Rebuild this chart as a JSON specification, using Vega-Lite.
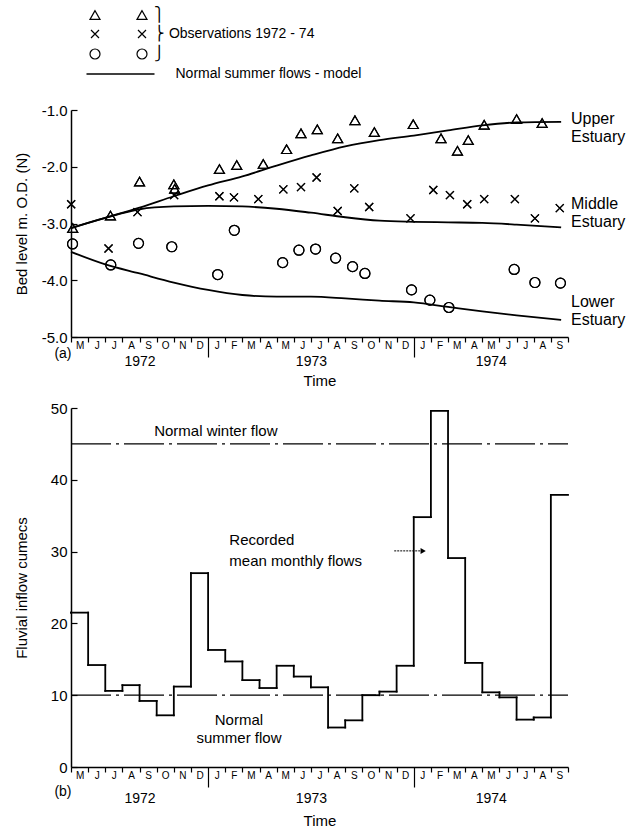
{
  "$schema": "https://vega.github.io/schema/vega-lite/v6.json",
  "background": "white",
  "padding": {"left": 14, "right": 5, "top": 8, "bottom": 5},
  "spacing": 13,
  "config": {
    "font": "Liberation Sans",
    "view": {"stroke": null},
    "axis": {"domainColor": "black", "tickColor": "black", "labelColor": "black", "titleColor": "black", "labelFont": "Liberation Sans", "titleFont": "Liberation Sans", "titleFontWeight": "normal", "domainWidth": 1.5, "tickWidth": 1.2, "grid": false},
    "legend": {"labelColor": "black", "labelFont": "Liberation Sans"},
    "text": {"color": "black", "font": "Liberation Sans"}
  },
  "datasets": {
    "model": [
      {"estuary": "Upper Estuary", "m": 0, "v": -3.08}, {"estuary": "Upper Estuary", "m": 2, "v": -2.9}, {"estuary": "Upper Estuary", "m": 4, "v": -2.72}, {"estuary": "Upper Estuary", "m": 6, "v": -2.52}, {"estuary": "Upper Estuary", "m": 8, "v": -2.33}, {"estuary": "Upper Estuary", "m": 10, "v": -2.17}, {"estuary": "Upper Estuary", "m": 12, "v": -1.98}, {"estuary": "Upper Estuary", "m": 14, "v": -1.8}, {"estuary": "Upper Estuary", "m": 16, "v": -1.64}, {"estuary": "Upper Estuary", "m": 18, "v": -1.53}, {"estuary": "Upper Estuary", "m": 20, "v": -1.45}, {"estuary": "Upper Estuary", "m": 22, "v": -1.36}, {"estuary": "Upper Estuary", "m": 24, "v": -1.27}, {"estuary": "Upper Estuary", "m": 26, "v": -1.22}, {"estuary": "Upper Estuary", "m": 28.6, "v": -1.21},
      {"estuary": "Middle Estuary", "m": 0, "v": -3.08}, {"estuary": "Middle Estuary", "m": 2, "v": -2.9}, {"estuary": "Middle Estuary", "m": 4, "v": -2.75}, {"estuary": "Middle Estuary", "m": 6, "v": -2.7}, {"estuary": "Middle Estuary", "m": 8, "v": -2.69}, {"estuary": "Middle Estuary", "m": 10, "v": -2.7}, {"estuary": "Middle Estuary", "m": 12, "v": -2.74}, {"estuary": "Middle Estuary", "m": 14, "v": -2.81}, {"estuary": "Middle Estuary", "m": 16, "v": -2.89}, {"estuary": "Middle Estuary", "m": 18, "v": -2.95}, {"estuary": "Middle Estuary", "m": 20, "v": -2.97}, {"estuary": "Middle Estuary", "m": 22, "v": -2.98}, {"estuary": "Middle Estuary", "m": 24, "v": -2.99}, {"estuary": "Middle Estuary", "m": 26, "v": -3.02}, {"estuary": "Middle Estuary", "m": 28.6, "v": -3.07},
      {"estuary": "Lower Estuary", "m": 0, "v": -3.5}, {"estuary": "Lower Estuary", "m": 2, "v": -3.72}, {"estuary": "Lower Estuary", "m": 4, "v": -3.88}, {"estuary": "Lower Estuary", "m": 6, "v": -4.04}, {"estuary": "Lower Estuary", "m": 8, "v": -4.17}, {"estuary": "Lower Estuary", "m": 10, "v": -4.26}, {"estuary": "Lower Estuary", "m": 12, "v": -4.29}, {"estuary": "Lower Estuary", "m": 14, "v": -4.29}, {"estuary": "Lower Estuary", "m": 16, "v": -4.32}, {"estuary": "Lower Estuary", "m": 18, "v": -4.36}, {"estuary": "Lower Estuary", "m": 20, "v": -4.39}, {"estuary": "Lower Estuary", "m": 22, "v": -4.47}, {"estuary": "Lower Estuary", "m": 24, "v": -4.55}, {"estuary": "Lower Estuary", "m": 26, "v": -4.62}, {"estuary": "Lower Estuary", "m": 28.6, "v": -4.7}
    ],
    "obs": [
      {"estuary": "Upper Estuary", "m": 0.1, "v": -3.08}, {"estuary": "Upper Estuary", "m": 2.3, "v": -2.86}, {"estuary": "Upper Estuary", "m": 4.0, "v": -2.26}, {"estuary": "Upper Estuary", "m": 6.0, "v": -2.31}, {"estuary": "Upper Estuary", "m": 6.05, "v": -2.39}, {"estuary": "Upper Estuary", "m": 8.66, "v": -2.04}, {"estuary": "Upper Estuary", "m": 9.67, "v": -1.97}, {"estuary": "Upper Estuary", "m": 11.22, "v": -1.95}, {"estuary": "Upper Estuary", "m": 12.58, "v": -1.69}, {"estuary": "Upper Estuary", "m": 13.42, "v": -1.41}, {"estuary": "Upper Estuary", "m": 14.37, "v": -1.34}, {"estuary": "Upper Estuary", "m": 15.56, "v": -1.5}, {"estuary": "Upper Estuary", "m": 16.57, "v": -1.18}, {"estuary": "Upper Estuary", "m": 17.7, "v": -1.39}, {"estuary": "Upper Estuary", "m": 19.97, "v": -1.25}, {"estuary": "Upper Estuary", "m": 21.59, "v": -1.5}, {"estuary": "Upper Estuary", "m": 22.55, "v": -1.72}, {"estuary": "Upper Estuary", "m": 23.18, "v": -1.53}, {"estuary": "Upper Estuary", "m": 24.11, "v": -1.26}, {"estuary": "Upper Estuary", "m": 26.0, "v": -1.16}, {"estuary": "Upper Estuary", "m": 27.49, "v": -1.23},
      {"estuary": "Middle Estuary", "m": 0.01, "v": -2.66}, {"estuary": "Middle Estuary", "m": 2.19, "v": -3.44}, {"estuary": "Middle Estuary", "m": 3.88, "v": -2.8}, {"estuary": "Middle Estuary", "m": 6.02, "v": -2.5}, {"estuary": "Middle Estuary", "m": 8.66, "v": -2.52}, {"estuary": "Middle Estuary", "m": 9.51, "v": -2.54}, {"estuary": "Middle Estuary", "m": 10.93, "v": -2.57}, {"estuary": "Middle Estuary", "m": 12.39, "v": -2.4}, {"estuary": "Middle Estuary", "m": 13.42, "v": -2.36}, {"estuary": "Middle Estuary", "m": 14.33, "v": -2.19}, {"estuary": "Middle Estuary", "m": 15.56, "v": -2.78}, {"estuary": "Middle Estuary", "m": 16.53, "v": -2.38}, {"estuary": "Middle Estuary", "m": 17.4, "v": -2.71}, {"estuary": "Middle Estuary", "m": 19.81, "v": -2.91}, {"estuary": "Middle Estuary", "m": 21.14, "v": -2.41}, {"estuary": "Middle Estuary", "m": 22.11, "v": -2.5}, {"estuary": "Middle Estuary", "m": 23.12, "v": -2.66}, {"estuary": "Middle Estuary", "m": 24.11, "v": -2.57}, {"estuary": "Middle Estuary", "m": 25.9, "v": -2.57}, {"estuary": "Middle Estuary", "m": 27.07, "v": -2.91}, {"estuary": "Middle Estuary", "m": 28.52, "v": -2.73},
      {"estuary": "Lower Estuary", "m": 0.09, "v": -3.36}, {"estuary": "Lower Estuary", "m": 2.32, "v": -3.73}, {"estuary": "Lower Estuary", "m": 3.94, "v": -3.35}, {"estuary": "Lower Estuary", "m": 5.88, "v": -3.41}, {"estuary": "Lower Estuary", "m": 8.56, "v": -3.9}, {"estuary": "Lower Estuary", "m": 9.53, "v": -3.12}, {"estuary": "Lower Estuary", "m": 12.35, "v": -3.69}, {"estuary": "Lower Estuary", "m": 13.3, "v": -3.47}, {"estuary": "Lower Estuary", "m": 14.27, "v": -3.45}, {"estuary": "Lower Estuary", "m": 15.44, "v": -3.61}, {"estuary": "Lower Estuary", "m": 16.43, "v": -3.76}, {"estuary": "Lower Estuary", "m": 17.15, "v": -3.88}, {"estuary": "Lower Estuary", "m": 19.87, "v": -4.17}, {"estuary": "Lower Estuary", "m": 20.94, "v": -4.35}, {"estuary": "Lower Estuary", "m": 22.05, "v": -4.48}, {"estuary": "Lower Estuary", "m": 25.86, "v": -3.81}, {"estuary": "Lower Estuary", "m": 27.07, "v": -4.04}, {"estuary": "Lower Estuary", "m": 28.56, "v": -4.05}
    ],
    "toplabels": [
      {"estuary": "Upper Estuary", "m": 29, "v": -1.16, "label": "Upper\nEstuary"},
      {"estuary": "Middle Estuary", "m": 29, "v": -2.66, "label": "Middle\nEstuary"},
      {"estuary": "Lower Estuary", "m": 29, "v": -4.39, "label": "Lower\nEstuary"}
    ],
    "flows": [
      {"month": "1972-05", "m": 0, "m2": 1, "flow": 21.5}, {"month": "1972-06", "m": 1, "m2": 2, "flow": 14.2}, {"month": "1972-07", "m": 2, "m2": 3, "flow": 10.6}, {"month": "1972-08", "m": 3, "m2": 4, "flow": 11.4}, {"month": "1972-09", "m": 4, "m2": 5, "flow": 9.2}, {"month": "1972-10", "m": 5, "m2": 6, "flow": 7.2}, {"month": "1972-11", "m": 6, "m2": 7, "flow": 11.2}, {"month": "1972-12", "m": 7, "m2": 8, "flow": 27.0},
      {"month": "1973-01", "m": 8, "m2": 9, "flow": 16.3}, {"month": "1973-02", "m": 9, "m2": 10, "flow": 14.7}, {"month": "1973-03", "m": 10, "m2": 11, "flow": 12.1}, {"month": "1973-04", "m": 11, "m2": 12, "flow": 11.0}, {"month": "1973-05", "m": 12, "m2": 13, "flow": 14.1}, {"month": "1973-06", "m": 13, "m2": 14, "flow": 12.6}, {"month": "1973-07", "m": 14, "m2": 15, "flow": 11.1}, {"month": "1973-08", "m": 15, "m2": 16, "flow": 5.5}, {"month": "1973-09", "m": 16, "m2": 17, "flow": 6.5}, {"month": "1973-10", "m": 17, "m2": 18, "flow": 10.0}, {"month": "1973-11", "m": 18, "m2": 19, "flow": 10.5}, {"month": "1973-12", "m": 19, "m2": 20, "flow": 14.1},
      {"month": "1974-01", "m": 20, "m2": 21, "flow": 34.8}, {"month": "1974-02", "m": 21, "m2": 22, "flow": 49.6}, {"month": "1974-03", "m": 22, "m2": 23, "flow": 29.1}, {"month": "1974-04", "m": 23, "m2": 24, "flow": 14.5}, {"month": "1974-05", "m": 24, "m2": 25, "flow": 10.4}, {"month": "1974-06", "m": 25, "m2": 26, "flow": 9.7}, {"month": "1974-07", "m": 26, "m2": 27, "flow": 6.6}, {"month": "1974-08", "m": 27, "m2": 28, "flow": 6.9}, {"month": "1974-09", "m": 28, "m2": 29, "flow": 37.9}
    ],
    "normals": [
      {"m": 0, "m2": 29, "flow": 45, "name": "Normal winter flow"},
      {"m": 0, "m2": 29, "flow": 10, "name": "Normal summer flow"}
    ],
    "bottomtext": [
      {"m": 8.45, "flow": 46.8, "text": "Normal winter flow"},
      {"m": 9.8, "flow": 6.5, "text": "Normal\nsummer flow"}
    ],
    "recorded": [
      {"m": 9.24, "flow": 31.6, "text": "Recorded\nmean monthly flows"}
    ],
    "arrow": [
      {"m": 18.86, "m2": 20.55, "flow": 30.1}
    ],
    "arrowhead": [
      {"m": 20.55, "flow": 30.1}
    ]
  },
  "vconcat": [
    {
      "width": 497,
      "height": 227,
      "encoding": {
        "x": {
          "field": "m", "type": "quantitative",
          "scale": {"domain": [0, 29], "nice": false, "zero": false},
          "axis": {
            "title": "Time", "titleFontSize": 15, "titlePadding": 4,
            "values": [0, 0.5, 1, 1.5, 2, 2.5, 3, 3.5, 4, 4.5, 5, 5.5, 6, 6.5, 7, 7.5, 8, 8.5, 9, 9.5, 10, 10.5, 11, 11.5, 12, 12.5, 13, 13.5, 14, 14.5, 15, 15.5, 16, 16.5, 17, 17.5, 18, 18.5, 19, 19.5, 20, 20.5, 21, 21.5, 22, 22.5, 23, 23.5, 24, 24.49, 24.5, 25, 25.5, 26, 26.5, 27, 27.5, 28, 28.5, 29],
            "labelExpr": "datum.value == 0 ? '(a)' : datum.value == 4 ? ['', '1972'] : datum.value == 14 ? ['', '1973'] : datum.value == 24.49 ? ['', '1974'] : datum.value % 1 == 0.5 ? substring('MJJASONDJFMAMJJASONDJFMAMJJAS', floor(datum.value), floor(datum.value) + 1) : ''",
            "labelFontSize": {"condition": {"test": "datum.value % 1 == 0.5", "value": 10}, "value": 14},
            "labelAlign": {"condition": {"test": "datum.value == 0", "value": "right"}, "value": "center"},
            "labelPadding": {"condition": {"test": "datum.value == 0", "value": 4}, "value": -2},
            "labelBaseline": "top",
            "labelLineHeight": 14,
            "tickSize": {"condition": {"test": "datum.value == 8 || datum.value == 20", "value": 20}, "value": 5},
            "tickOpacity": {"condition": {"test": "datum.value % 1 != 0", "value": 0}, "value": 1},
            "labelOverlap": false, "labelFlush": false, "labelBound": false
          }
        },
        "y": {
          "field": "v", "type": "quantitative",
          "scale": {"domain": [-5, -1], "nice": false, "zero": false},
          "axis": {
            "title": "Bed level m. O.D. (N)", "titleFontSize": 15, "titlePadding": 12,
            "values": [-5, -4, -3, -2, -1],
            "labelExpr": "replace(format(datum.value, '.1f'), '\u2212', '-')",
            "labelFontSize": 15, "tickSize": -6, "labelPadding": 10
          }
        }
      },
      "layer": [
        {
          "data": {"name": "model"},
          "mark": {"type": "line", "interpolate": "monotone", "strokeWidth": 1.8},
          "encoding": {
            "detail": {"field": "estuary", "type": "nominal"},
            "color": {
              "datum": "Normal summer flows - model", "type": "nominal",
              "scale": {"range": ["black"]},
              "legend": {"orient": "none", "legendX": 14.5, "legendY": -71, "title": null, "symbolType": "stroke", "symbolSize": 4624, "symbolStrokeWidth": 1.6, "labelOffset": 20, "labelFontSize": 14, "padding": 0, "labelLimit": 400}
            }
          }
        },
        {
          "data": {"name": "obs"},
          "mark": {"type": "point", "filled": false, "size": 100, "strokeWidth": 1.2, "color": "black", "opacity": 1},
          "encoding": {
            "shape": {
              "field": "estuary", "type": "nominal",
              "scale": {"domain": ["Upper Estuary", "Middle Estuary", "Lower Estuary"], "range": ["triangle-up", "M-0.8,-0.8L0.8,0.8M-0.8,0.8L0.8,-0.8", "circle"]},
              "legend": {"orient": "none", "legendX": 17, "legendY": -102, "title": null, "labelExpr": "''", "symbolSize": 100, "symbolStrokeWidth": 1.2, "symbolStrokeColor": "black", "symbolFillColor": "transparent", "rowPadding": 5, "labelFontSize": 14, "padding": 0}
            }
          }
        },
        {
          "data": {"name": "obs"},
          "mark": {"type": "point", "filled": false, "size": 100, "strokeWidth": 1.2, "color": "black", "opacity": 1},
          "encoding": {
            "shape": {
              "field": "estuary", "type": "nominal",
              "scale": {"domain": ["Upper Estuary", "Middle Estuary", "Lower Estuary"], "range": ["triangle-up", "M-0.8,-0.8L0.8,0.8M-0.8,0.8L0.8,-0.8", "circle"]},
              "legend": {"orient": "none", "legendX": 64, "legendY": -102, "title": null, "labelExpr": "datum.label == 'Upper Estuary' ? '⎫' : datum.label == 'Middle Estuary' ? '⎬ Observations 1972 - 74' : '⎭'", "symbolSize": 100, "symbolStrokeWidth": 1.2, "symbolStrokeColor": "black", "symbolFillColor": "transparent", "rowPadding": 5, "labelFontSize": 14, "labelOffset": 5, "padding": 0, "labelLimit": 400}
            }
          }
        },
        {
          "data": {"name": "toplabels"},
          "mark": {"type": "text", "align": "left", "baseline": "middle", "dx": 3, "fontSize": 16, "lineHeight": 18, "lineBreak": "\n"},
          "encoding": {"text": {"field": "label", "type": "nominal"}}
        }
      ],
      "resolve": {"scale": {"shape": "independent"}}
    },
    {
      "width": 497,
      "height": 359,
      "encoding": {
        "x": {
          "field": "m", "type": "quantitative",
          "scale": {"domain": [0, 29], "nice": false, "zero": false},
          "axis": {
            "title": "Time", "titleFontSize": 15, "titlePadding": 8,
            "values": [0, 0.5, 1, 1.5, 2, 2.5, 3, 3.5, 4, 4.5, 5, 5.5, 6, 6.5, 7, 7.5, 8, 8.5, 9, 9.5, 10, 10.5, 11, 11.5, 12, 12.5, 13, 13.5, 14, 14.5, 15, 15.5, 16, 16.5, 17, 17.5, 18, 18.5, 19, 19.5, 20, 20.5, 21, 21.5, 22, 22.5, 23, 23.5, 24, 24.49, 24.5, 25, 25.5, 26, 26.5, 27, 27.5, 28, 28.5, 29],
            "labelExpr": "datum.value == 0 ? '(b)' : datum.value == 4 ? ['', '1972'] : datum.value == 14 ? ['', '1973'] : datum.value == 24.49 ? ['', '1974'] : datum.value % 1 == 0.5 ? substring('MJJASONDJFMAMJJASONDJFMAMJJAS', floor(datum.value), floor(datum.value) + 1) : ''",
            "labelFontSize": {"condition": {"test": "datum.value % 1 == 0.5", "value": 10}, "value": 14},
            "labelAlign": {"condition": {"test": "datum.value == 0", "value": "right"}, "value": "center"},
            "labelPadding": {"condition": {"test": "datum.value == 0", "value": 12}, "value": -2},
            "labelBaseline": "top",
            "labelLineHeight": 21,
            "tickSize": {"condition": {"test": "datum.value == 8 || datum.value == 20", "value": 20}, "value": 5},
            "tickOpacity": {"condition": {"test": "datum.value % 1 != 0", "value": 0}, "value": 1},
            "labelOverlap": false, "labelFlush": false, "labelBound": false
          }
        },
        "y": {
          "field": "flow", "type": "quantitative",
          "scale": {"domain": [0, 50], "nice": false},
          "axis": {
            "title": "Fluvial inflow cumecs", "titleFontSize": 15, "titlePadding": 21,
            "values": [0, 10, 20, 30, 40, 50],
            "labelFontSize": 15, "tickSize": -6, "labelPadding": 10
          }
        }
      },
      "layer": [
        {
          "data": {"name": "normals"},
          "mark": {"type": "rule", "strokeDash": [40, 5, 3, 5], "strokeWidth": 1.3, "color": "black"},
          "encoding": {"x2": {"field": "m2"}}
        },
        {
          "data": {"name": "flows"},
          "mark": {"type": "rule", "strokeWidth": 1.8, "color": "black", "strokeCap": "square"},
          "encoding": {"x2": {"field": "m2"}}
        },
        {
          "data": {"name": "flows"},
          "transform": [{"window": [{"op": "lag", "field": "flow", "as": "prev"}], "sort": [{"field": "m", "order": "ascending"}]}],
          "mark": {"type": "rule", "strokeWidth": 1.8, "color": "black", "strokeCap": "square"},
          "encoding": {"y2": {"field": "prev"}}
        },
        {
          "data": {"name": "bottomtext"},
          "mark": {"type": "text", "align": "center", "baseline": "middle", "fontSize": 15, "lineBreak": "\n", "lineHeight": 18},
          "encoding": {"text": {"field": "text", "type": "nominal"}}
        },
        {
          "data": {"name": "recorded"},
          "mark": {"type": "text", "align": "left", "baseline": "middle", "fontSize": 15, "lineBreak": "\n", "lineHeight": 21},
          "encoding": {"text": {"field": "text", "type": "nominal"}}
        },
        {
          "data": {"name": "arrow"},
          "mark": {"type": "rule", "strokeWidth": 1, "strokeDash": [2, 1], "color": "black"},
          "encoding": {"x2": {"field": "m2"}}
        },
        {
          "data": {"name": "arrowhead"},
          "mark": {"type": "point", "shape": "triangle-right", "filled": true, "size": 36, "color": "black", "opacity": 1}
        }
      ]
    }
  ]
}
